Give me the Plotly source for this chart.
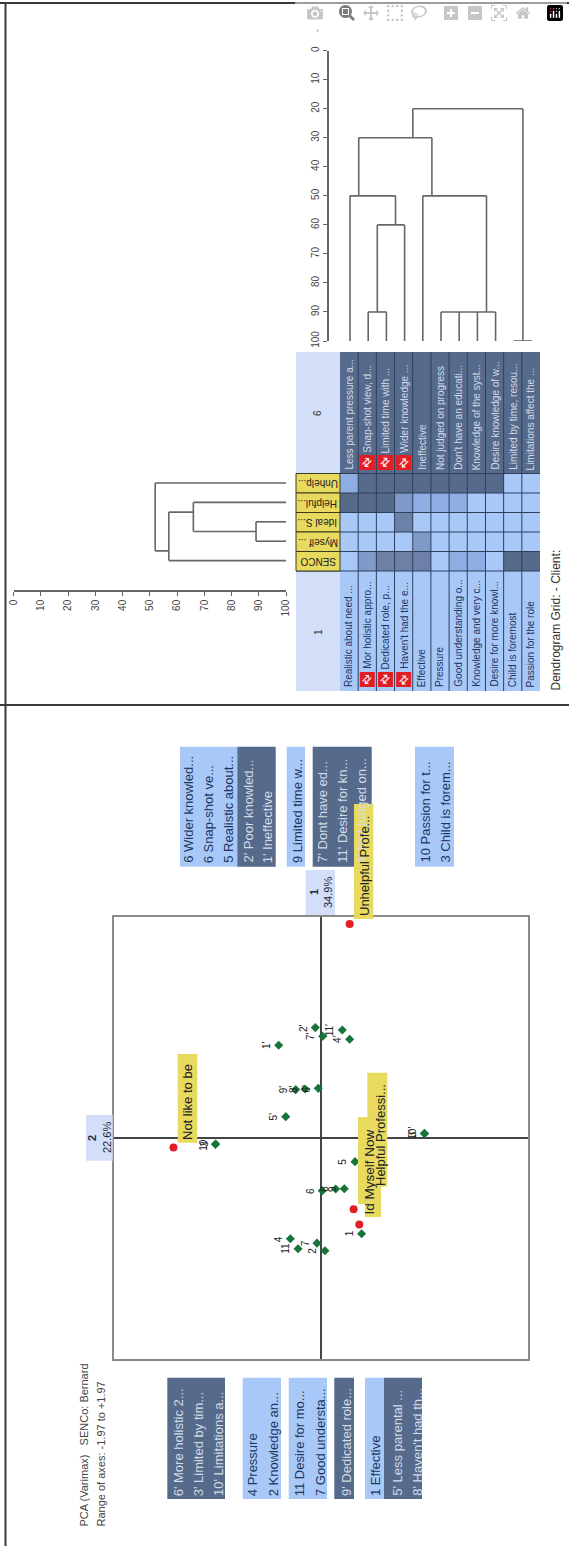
import plotly.graph_objects as go

W, H = 569, 1546

# ---------- data ----------
pca_labels = ["2'", "7'", "11'", "4'", "1'", "6'", "8'", "9'", "5'", "3'", "10'",
              "10", "3", "5", "9", "8", "6", "1", "4", "11", "7", "2"]
pca_axis2 = [-0.054, 0.016, 0.203, 0.273, -0.403, -0.026, -0.152, -0.241, -0.336, 0.987, 0.985,
             -1.006, -1.004, 0.324, 0.222, 0.140, 0.012, 0.387, -0.292, -0.219, -0.038, 0.038]
pca_axis1 = [0.982, 0.905, 0.961, 0.878, 0.825, 0.441, 0.435, 0.430, 0.189, 0.037, 0.040,
             -0.058, -0.055, -0.212, -0.453, -0.456, -0.471, -0.854, -0.899, -0.988, -0.938, -1.006]
element_points_axis2 = [0.273, -1.406, 0.311, 0.365]
element_points_axis1 = [1.906, -0.085, -0.635, -0.771]
pca_range = 1.97
axis_pct = ["34.9%", "22.6%"]

elements = ["Unhelp...", "Helpful...", "Ideal S...", "Myself ...", "SENCO"]
right_poles = ["Less parent pressure a...", "Snap-shot view, d...", "Limited time with ...",
               "Wider knowledge ...", "Ineffective", "Not judged on progress",
               "Don't have an educati...", "Knowledge of the syst...", "Desire knowledge of w...",
               "Limited by time, resou...", "Limitations affect the ..."]
left_poles = ["Realistic about need ...", "Mor holistic appro...", "Dedicated role, p...",
              "Haven't had the e...", "Effective", "Pressure", "Good understanding o...",
              "Knowledge and very c...", "Desire for more knowl...", "Child is foremost",
              "Passion for the role"]
grid_values = [
    [2, 5, 5, 5, 5, 5, 5, 5, 5, 1, 1],
    [5, 5, 5, 3, 2, 2, 2, 1, 1, 1, 1],
    [1, 1, 1, 4, 1, 1, 1, 1, 1, 1, 1],
    [1, 1, 1, 1, 3, 1, 1, 1, 1, 1, 1],
    [1, 3, 4, 4, 4, 1, 2, 2, 1, 5, 5],
]
reversed_rows = [1, 2, 3]

# construct dendrogram: row position / similarity paths
con_rows = [3.45, 9.5, None, 3.45, 3.45, None, 9.5, 9.5, None, 9, 10, None,
            0.48, 4.5, None, 0.48, 0.48, None, 4.5, 4.5, None, 0, 2.5, None, 0, 0, None,
            2.5, 2.5, None, 1.5, 3, None, 3, 3, None, 1.5, 1.5, None, 1, 2, None, 1, 1, None,
            2, 2, None, 4, 7.5, None, 4, 4, None, 7.5, 7.5, None, 5, 8, None, 5, 5, None,
            6, 6, None, 7, 7, None, 8, 8]
con_sim = [20, 20, None, 20, 30, None, 20, 100, None, 100, 100, None,
           30, 30, None, 30, 50, None, 30, 50, None, 50, 50, None, 50, 100, None,
           50, 60, None, 60, 60, None, 60, 100, None, 60, 90, None, 90, 90, None, 90, 100, None,
           90, 100, None, 50, 50, None, 50, 100, None, 50, 90, None, 90, 90, None, 90, 100, None,
           90, 100, None, 90, 100, None, 90, 100]
# element dendrogram
el_sim = [100, 89, None, 100, 89, None, 89, 89, None, 89, 66, None, 100, 66, None, 66, 66, None,
          66, 57, None, 100, 57, None, 57, 57, None, 57, 52, None, 100, 52, None, 52, 52]
el_rows = [2, 2, None, 3, 3, None, 2, 3, None, 2.5, 2.5, None, 1, 1, None, 1, 2.5, None,
           1.5, 1.5, None, 4, 4, None, 1.5, 4, None, 3.5, 3.5, None, 0, 0, None, 0, 3.5]
sim_ticks = [0, 10, 20, 30, 40, 50, 60, 70, 80, 90, 100]

list_top = [
    ["6 Wider knowled...", "6 Snap-shot ve...", "5 Realistic about..."],
    ["2' Poor knowled...", "1' Ineffective"],
    ["9 Limited time w..."],
    ["7' Dont have ed...", "11' Desire for kn...", "4' Not judged on..."],
    ["10 Passion for t...", "3 Child is forem..."],
]
list_bottom = [
    ["6' More holistic 2...", "3' Limited by tim...", "10' Limitations a..."],
    ["4 Pressure", "2 Knowledge an..."],
    ["11 Desire for mo...", "7 Good understa..."],
    ["9' Dedicated role..."],
    ["1 Effective"],
    ["5' Less parental ...", "8' Haven't had th..."],
]

# ---------- styles ----------
FONT = "Liberation Sans"
LIGHT, DARK, HEAD, YELLOW = "#A8C9F8", "#566A8C", "#D3DEF8", "#E8DA5E"
TXT_L, TXT_D = "#1E3560", "#D3DAE8"
GRID = "#2F3F5C"


def xd(a, b):
    return [a / W, b / W]


def yd(top, bottom):
    return [1 - bottom / H, 1 - top / H]


shapes, ann = [], []


def rect(x0, y0, x1, y1, fill, line=None, layer="above"):
    shapes.append(dict(type="rect", xref="paper", yref="paper", x0=x0 / W, x1=x1 / W,
                       y0=1 - y0 / H, y1=1 - y1 / H, fillcolor=fill, layer=layer,
                       line=dict(color=line or fill, width=1 if line else 0)))


def vtext(px, py, s, size=13, color=TXT_L, anchor="bottom", bold=False, angle=-90):
    ann.append(dict(text=f"<b>{s}</b>" if bold else s, xref="paper", yref="paper", x=px / W,
                    y=1 - py / H, xanchor="center", yanchor=anchor, showarrow=False,
                    textangle=angle, borderpad=0,
                    font=dict(family=FONT, size=size, color=color)))


def pline(x0, y0, x1, y1, color="#3A3A3A", width=2):
    shapes.append(dict(type="line", xref="paper", yref="paper", x0=x0 / W, x1=x1 / W,
                       y0=1 - y0 / H, y1=1 - y1 / H, line=dict(color=color, width=width),
                       layer="above"))


fig = go.Figure()

# PCA points
fig.add_trace(go.Scatter(x=pca_axis2, y=pca_axis1, mode="markers", xaxis="x", yaxis="y",
                         marker=dict(symbol="diamond", size=7, color="#16753A"),
                         hoverinfo="skip", showlegend=False))
fig.add_trace(go.Scatter(x=element_points_axis2, y=element_points_axis1, mode="markers",
                         xaxis="x", yaxis="y", marker=dict(size=8, color="#E01E24"),
                         hoverinfo="skip", showlegend=False))
for s, a, b in zip(pca_labels, pca_axis2, pca_axis1):
    ann.append(dict(text=s, xref="x", yref="y", x=a, y=b, xshift=-12, showarrow=False,
                    textangle=-90, font=dict(family=FONT, size=10, color="#222222")))

# Dendrograms
DEN = dict(color="#666666", width=1.6)
fig.add_trace(go.Scatter(x=con_rows, y=con_sim, mode="lines", xaxis="x2", yaxis="y2", line=DEN,
                         hoverinfo="skip", showlegend=False, connectgaps=False))
fig.add_trace(go.Scatter(x=[-1.154, -1.154], y=[-6.5, 0], mode="lines", xaxis="x2", yaxis="y2",
                         line=dict(color="#E8738C", width=1.5), cliponaxis=False,
                         hoverinfo="skip", showlegend=False))
fig.add_trace(go.Scatter(x=el_sim, y=el_rows, mode="lines", xaxis="x3", yaxis="y3", line=DEN,
                         hoverinfo="skip", showlegend=False, connectgaps=False))

# Grid heatmap
levels = ["#A8C9F8", "#8DADE3", "#7F99C8", "#6D80A8", "#566A8C"]
cs = []
for i, c in enumerate(levels):
    cs += [[i / 5, c], [(i + 1) / 5, c]]
fig.add_trace(go.Heatmap(z=grid_values, x=list(range(11)), y=list(range(5)), xaxis="x4", yaxis="y4",
                         colorscale=cs, zmin=0.5, zmax=5.5, showscale=False, hoverinfo="skip"))

# Grid frame
GX0, GX1, ROW = 340, 540, 200 / 11
rect(296, 352, 340, 473.5, HEAD, layer="below")
rect(296, 571, 340, 691, HEAD, layer="below")
rect(GX0, 352, GX1, 473.5, DARK, layer="below")
rect(GX0, 571, GX1, 691, LIGHT, layer="below")
for i in range(1, 11):
    px = GX0 + i * ROW
    pline(px, 352, px, 691, GRID, 1)
for j in range(6):
    py = 473.5 + j * 19.5
    pline(296, py, GX1, py, GRID, 1.2)
for j, e in enumerate(elements):
    y0 = 473.5 + j * 19.5
    rect(296, y0, 340, y0 + 19.5, YELLOW, line="#3A3A20")
    ann.append(dict(text=e, xref="paper", yref="paper", x=318 / W, y=1 - (y0 + 9.75) / H,
                    xanchor="center", yanchor="middle", showarrow=False, textangle=180,
                    font=dict(family=FONT, size=10, color="#222222")))
vtext(317, 413, "6", 10, "#333333", "middle")
vtext(318, 632, "1", 10, "#333333", "middle")

for i, (a, b) in enumerate(zip(right_poles, left_poles)):
    px = GX0 + (i + 0.5) * ROW
    flagged = i in reversed_rows
    vtext(px, 454 if flagged else 471, a, 10, TXT_D)
    vtext(px, 670 if flagged else 688, b, 10, TXT_L)
    if flagged:
        for y0 in (455, 672):
            rect(px - 7.5, y0, px + 7.5, y0 + 15, "#E21D24")
            ann.append(dict(text="⇅", xref="paper", yref="paper", x=px / W, y=1 - (y0 + 7.5) / H,
                            xanchor="center", yanchor="middle", showarrow=False, textangle=45,
                            font=dict(family="DejaVu Sans", size=12, color="#FFFFFF")))

vtext(555, 692, "Dendrogram Grid: - Client:", 12, "#333333")
vtext(317, 31, "-", 9, "#555555", "middle")

# PCA lists
top_blocks = [(180, 237.3, LIGHT, TXT_L, [188.3, 208.3, 228.3]),
              (237.3, 275.7, DARK, TXT_D, [248, 267.3]),
              (286.7, 305, LIGHT, TXT_L, [297]),
              (312.7, 371.7, DARK, TXT_D, [321.7, 341.7, 361.7]),
              (415, 454, LIGHT, TXT_L, [425, 445])]
for (x0, x1, fill, col, xs), lines in zip(top_blocks, list_top):
    rect(x0, 746.7, x1, 866.7, fill)
    for px, s in zip(xs, lines):
        vtext(px, 864, s, 13, col)
bot_blocks = [(167.3, 225, DARK, TXT_D, [178.3, 198.3, 218]),
              (242.7, 281, LIGHT, TXT_L, [252.7, 273.3]),
              (288.7, 327, LIGHT, TXT_L, [299.3, 320]),
              (334.3, 354, DARK, TXT_D, [346]),
              (365, 384, LIGHT, TXT_L, [375]),
              (384, 422, DARK, TXT_D, [396.7, 416.7])]
for (x0, x1, fill, col, xs), lines in zip(bot_blocks, list_bottom):
    rect(x0, 1377.7, x1, 1499, fill)
    for px, s in zip(xs, lines):
        vtext(px, 1497, s, 13, col)

# axis headers
rect(305.7, 870, 335, 915, HEAD)
vtext(314, 892, "1", 11, "#1E2A44", "middle", bold=True)
vtext(328, 892, axis_pct[0], 11, "#1E2A44", "middle")
rect(86, 1115, 112.7, 1160.7, HEAD)
vtext(92, 1138, "2", 11, "#1E2A44", "middle", bold=True)
vtext(107, 1138, axis_pct[1], 11, "#1E2A44", "middle")

# yellow element labels
rect(354, 804, 373.3, 919, YELLOW)
vtext(364, 917, "Unhelpful Profe...", 13, "#222222")
rect(177.7, 1054, 197.3, 1142.7, YELLOW)
vtext(187, 1141, "Not like to be", 13, "#222222")
rect(367.3, 1072.7, 387.3, 1186.7, YELLOW)
vtext(380, 1187, "Helpful Professi...", 13, "#222222")
rect(358, 1117, 376, 1204, YELLOW)
rect(365, 1187, 381, 1217, YELLOW)
vtext(369, 1216, "Id Myself Now", 13.5, "#222222")

# titles
vtext(83, 1528, "PCA (Varimax)   SENCo: Bernard", 11, "#444444")
vtext(100, 1528, "Range of axes: -1.97 to +1.97", 11, "#444444")

# page frame
pline(0, 3, W, 3)
pline(5.5, 3, 5.5, H)
pline(0, 705, W, 705)

ax_off = dict(visible=False, showgrid=False, zeroline=False)
tick_font = dict(family=FONT, size=10, color="#444444")
fig.update_layout(
    width=W, height=H, autosize=False, margin=dict(l=0, r=0, t=0, b=0, pad=0, autoexpand=False),
    paper_bgcolor="white", plot_bgcolor="white", showlegend=False,
    shapes=shapes, annotations=ann,
    xaxis=dict(domain=xd(114.3, 527.7), range=[-pca_range, pca_range], anchor="y", showgrid=False,
               showticklabels=False, ticks="", showline=True, mirror=True, linecolor="#8A8A8A",
               linewidth=2, zeroline=True, zerolinecolor="#444444", zerolinewidth=2),
    yaxis=dict(domain=yd(916.7, 1359), range=[-pca_range, pca_range], anchor="x", showgrid=False,
               showticklabels=False, ticks="", showline=True, mirror=True, linecolor="#8A8A8A",
               linewidth=2, zeroline=True, zerolinecolor="#444444", zerolinewidth=2),
    xaxis2=dict(domain=xd(329, 540), range=[-1.154, 10.44], anchor="y2", **ax_off),
    yaxis2=dict(domain=yd(50.7, 341), range=[100, 0], anchor="x2", showgrid=False, zeroline=False,
                showline=True, linecolor="#666666", linewidth=1.5, ticks="outside", ticklen=4,
                tickcolor="#666666", tickvals=sim_ticks, tickangle=-90, tickfont=tick_font),
    xaxis3=dict(domain=xd(13.5, 286), range=[0, 100], anchor="y3", showgrid=False, zeroline=False,
                showline=True, linecolor="#666666", linewidth=1.5, ticks="outside", ticklen=4,
                tickcolor="#666666", tickvals=sim_ticks, tickangle=-90, tickfont=tick_font),
    yaxis3=dict(domain=yd(473.5, 590), range=[5.515, -0.49], anchor="x3", **ax_off),
    xaxis4=dict(domain=xd(GX0, GX1), range=[-0.5, 10.5], anchor="y4", **ax_off),
    yaxis4=dict(domain=yd(473.5, 571), range=[4.5, -0.5], anchor="x4", **ax_off),
)
fig.write_html("out.html", post_script="document.body.style.margin='0';document.documentElement.style.overflow='hidden';")
